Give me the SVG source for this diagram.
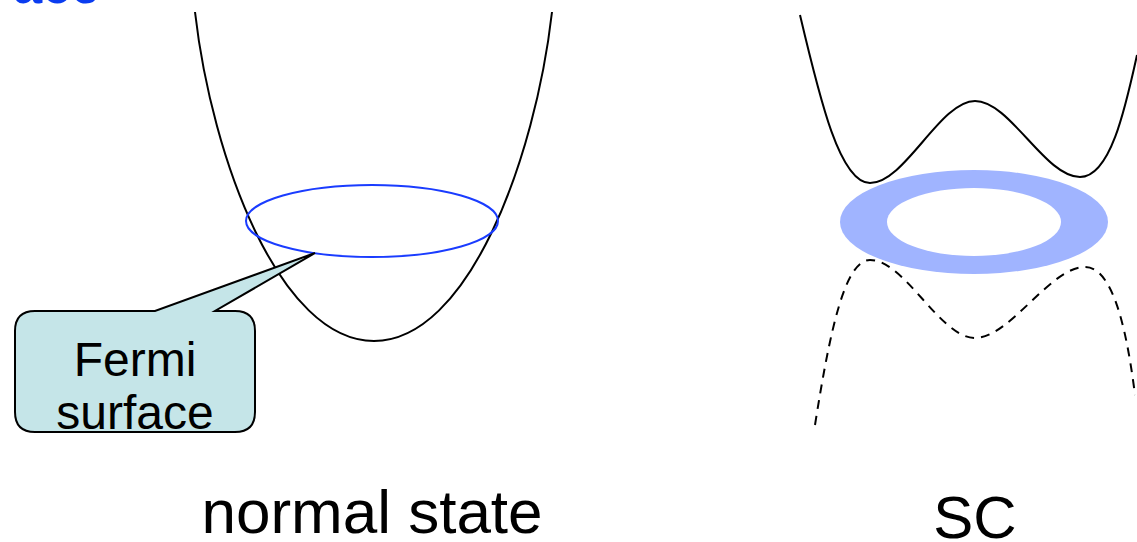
<svg xmlns="http://www.w3.org/2000/svg" width="1137" height="542" viewBox="0 0 1137 542">
<style>
.curve{fill:none;stroke:#000;stroke-width:2}
.dash{fill:none;stroke:#000;stroke-width:2;stroke-dasharray:9 7}
.lbl{font-family:"Liberation Sans",Arial,sans-serif;fill:#000;text-anchor:middle}
</style>
<rect width="1137" height="542" fill="#fff"/>
<text x="100" y="3" font-family="Liberation Sans,Arial,sans-serif" font-size="52" font-weight="bold" fill="#0a3cf0" text-anchor="end">ace</text>
<g id="normal-band">
<path class="curve" d="M195,12 C212,160 280,341 374,341 C468,341 535,160 552,12"/>
</g>
<g id="fermi-ellipse">
<ellipse cx="372" cy="221" rx="126" ry="36" fill="none" stroke="#1a3cff" stroke-width="2"/>
</g>
<g id="callout">
<path d="M35,311 L155,311 L315,253 L215,311 L235,311 Q255,311 255,331 L255,412 Q255,432 235,432 L35,432 Q15,432 15,412 L15,331 Q15,311 35,311 Z" fill="#c5e5e8" stroke="#000" stroke-width="2"/>
<text class="lbl" x="135" y="376" font-size="48">Fermi</text>
<text class="lbl" x="135" y="429" font-size="48">surface</text>
</g>
<g id="sc-upper">
<path class="curve" d="M800,15 C820,100 840,183 870,183 C905,183 940,101 975,101 C1010,101 1045,177 1080,177 C1110,177 1125,110 1137,55"/>
</g>
<g id="sc-gap">
<ellipse cx="974" cy="222" rx="134" ry="52" fill="#a0b4ff"/>
<ellipse cx="974" cy="222" rx="87" ry="34" fill="#fff"/>
</g>
<g id="sc-lower">
<path class="dash" d="M815,425 C830,330 845,260 870,260 C905,260 940,338 975,338 C1010,338 1050,267 1085,267 C1115,267 1128,340 1135,395"/>
</g>
<g id="labels">
<text class="lbl" x="372" y="533" font-size="62">normal state</text>
<text class="lbl" x="975" y="538" font-size="60">SC</text>
</g>
<g id="connectors"></g>
</svg>
